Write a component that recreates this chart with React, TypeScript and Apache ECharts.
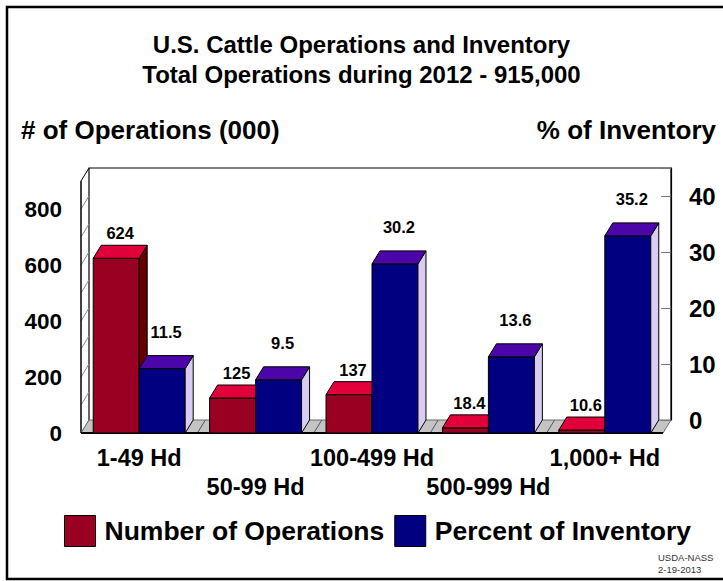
import React, { useEffect, useRef } from "react";
import * as echarts from "echarts";

const categories = ["1-49 Hd", "50-99 Hd", "100-499 Hd", "500-999 Hd", "1,000+ Hd"];
const operations = [624, 125, 137, 18.4, 10.6];
const inventoryPct = [11.5, 9.5, 30.2, 13.6, 35.2];
const opsAxis = { min: 0, max: 900, interval: 200, minor: 100 };
const pctAxis = { min: 0, max: 45, interval: 10 };

const FONT = "'Liberation Sans', Arial, sans-serif";
const DX = 8;
const DY = 13;
const RED = { front: "#990022", top: "#E2003A", side: "#660000" };
const BLUE = { front: "#000080", top: "#4B05A8", side: "#D9CCF2" };

function barRenderer(side: "left" | "right", col: any, gap: number) {
  return (params: any, api: any) => {
    const i = api.value(0);
    const v = api.value(1);
    const base = api.coord([i, 0]);
    const top = api.coord([i, v]);
    const band = api.size([1, 0])[0];
    const w = band * 0.395;
    const xl = side === "left" ? base[0] - w : base[0];
    const xr = xl + w;
    const yb = base[1];
    const yt = top[1];
    const st = { stroke: "#000", lineWidth: 1 };
    return {
      type: "group",
      children: [
        { type: "rect", shape: { x: xl, y: yt, width: w, height: yb - yt }, style: { fill: col.front, ...st } },
        {
          type: "polygon",
          shape: { points: [[xr, yt], [xr + DX, yt - DY], [xr + DX, yb - DY], [xr, yb]] },
          style: { fill: col.side, ...st },
        },
        {
          type: "polygon",
          shape: { points: [[xl, yt], [xr, yt], [xr + DX, yt - DY], [xl + DX, yt - DY]] },
          style: { fill: col.top, ...st },
        },
        {
          type: "text",
          x: (xl + xr) / 2 + DX / 2,
          y: yt - DY - gap,
          style: {
            text: String(v),
            font: `bold 16.5px ${FONT}`,
            fill: "#000",
            align: "center",
            verticalAlign: "middle",
          },
        },
      ],
    };
  };
}

function frameRenderer(params: any, api: any) {
  const cs = params.coordSys;
  const x0 = cs.x;
  const x1 = cs.x + cs.width;
  const yT = cs.y;
  const yB = cs.y + cs.height;
  const band = api.size([1, 0])[0];
  const children: any[] = [];
  children.push({
    type: "polyline",
    shape: { points: [[x0 + DX, yB - DY], [x0 + DX, yT - DY], [x1 + DX, yT - DY], [x1 + DX, yB - DY]] },
    style: { fill: "none", stroke: "#000", lineWidth: 1.2 },
  });
  for (let v = opsAxis.min; v <= opsAxis.max; v += opsAxis.minor) {
    const y = api.coord([0, v])[1];
    children.push({
      type: "line",
      shape: { x1: x0, y1: y, x2: x0 + DX, y2: y - DY },
      style: { stroke: v === opsAxis.max ? "#000" : "#8a8a8a", lineWidth: 1 },
    });
  }
  children.push({
    type: "line",
    shape: { x1: x0, y1: yT, x2: x0, y2: yB },
    style: { stroke: "#000", lineWidth: 1.5 },
  });
  children.push({
    type: "polygon",
    shape: { points: [[x0, yB], [x1, yB], [x1 + DX, yB - DY], [x0 + DX, yB - DY]] },
    style: { fill: "#c4c4c4", stroke: "#6a6a6a", lineWidth: 1 },
  });
  for (let k = 1; k < categories.length; k++) {
    const bx = x0 + k * band;
    children.push({
      type: "line",
      shape: { x1: bx, y1: yB, x2: bx + DX, y2: yB - DY },
      style: { stroke: "#555", lineWidth: 1 },
    });
  }
  children.push({
    type: "line",
    shape: { x1: x0, y1: yB, x2: x1, y2: yB },
    style: { stroke: "#000", lineWidth: 1.8 },
  });
  return { type: "group", children };
}

export default function App() {
  const ref = useRef<HTMLDivElement>(null);
  useEffect(() => {
    if (!ref.current) return;
    const chart = echarts.init(ref.current, null, { renderer: "svg" });
    const opsData = operations.map((v, i) => [i, v]);
    const pctData = inventoryPct.map((v, i) => [i, v]);
    chart.setOption({
      animation: false,
      backgroundColor: "#fff",
      textStyle: { fontFamily: FONT },
      grid: [
        { left: 81, right: 60, top: 181, bottom: 148 },
        { left: 89, right: 52, top: 168, bottom: 161 },
      ],
      legend: {
        left: 64,
        top: 515,
        padding: 0,
        itemWidth: 31,
        itemHeight: 31,
        itemGap: 10,
        icon: "rect",
        selectedMode: false,
        data: ["Number of Operations", "Percent of Inventory"],
        itemStyle: { borderColor: "#000", borderWidth: 1 },
        textStyle: { fontSize: 26.5, fontWeight: "bold", color: "#000", fontFamily: FONT, padding: [0, 0, 0, 4] },
      },
      xAxis: [
        {
          type: "category",
          gridIndex: 0,
          data: categories,
          axisLine: { show: false },
          axisTick: { show: false },
          axisLabel: {
            interval: 0,
            margin: 10.5,
            fontSize: 23.5,
            fontWeight: "bold",
            color: "#000",
            fontFamily: FONT,
            lineHeight: 29,
            formatter: (v: string, i: number) => (i % 2 ? "\n" + v : v),
          },
        },
        { type: "category", gridIndex: 1, data: categories, show: false },
      ],
      yAxis: [
        {
          type: "value",
          gridIndex: 0,
          min: opsAxis.min,
          max: opsAxis.max,
          interval: opsAxis.interval,
          axisLine: { show: false },
          axisTick: { show: false },
          splitLine: { show: false },
          axisLabel: {
            margin: 19,
            fontSize: 22.5,
            fontWeight: "bold",
            color: "#000",
            fontFamily: FONT,
            formatter: (v: number) => (v === opsAxis.max ? "" : String(v)),
          },
        },
        {
          type: "value",
          gridIndex: 0,
          min: pctAxis.min,
          max: pctAxis.max,
          show: false,
          splitLine: { show: false },
        },
        {
          type: "value",
          gridIndex: 1,
          position: "right",
          min: pctAxis.min,
          max: pctAxis.max,
          interval: pctAxis.interval,
          z: 10,
          axisLine: { show: true, lineStyle: { color: "#000", width: 1.2 } },
          axisTick: { show: true, inside: true, length: 10, lineStyle: { color: "#777" } },
          splitLine: { show: false },
          axisLabel: {
            margin: 18,
            fontSize: 24,
            fontWeight: "bold",
            color: "#000",
            fontFamily: FONT,
            formatter: (v: number) => (v === pctAxis.max ? "" : String(v)),
          },
        },
      ],
      series: [
        {
          type: "custom",
          name: "frame",
          xAxisIndex: 0,
          yAxisIndex: 0,
          data: [[0, 0]],
          renderItem: frameRenderer,
          clip: false,
          silent: true,
          z: 1,
        },
        {
          type: "custom",
          name: "Number of Operations",
          xAxisIndex: 0,
          yAxisIndex: 0,
          data: opsData,
          itemStyle: { color: RED.front },
          renderItem: barRenderer("left", RED, 12),
          clip: false,
          z: 3,
        },
        {
          type: "custom",
          name: "Percent of Inventory",
          xAxisIndex: 0,
          yAxisIndex: 1,
          data: pctData,
          itemStyle: { color: BLUE.front },
          renderItem: barRenderer("right", BLUE, 24),
          clip: false,
          z: 4,
        },
      ],
      graphic: [
        {
          type: "rect",
          shape: { x: 7, y: 7, width: 740, height: 572 },
          style: { fill: "none", stroke: "#000", lineWidth: 2.5 },
          silent: true,
        },
        {
          type: "text",
          x: 361.5,
          y: 44,
          style: { text: "U.S. Cattle Operations and Inventory", font: `bold 24px ${FONT}`, fill: "#000", align: "center", verticalAlign: "middle" },
        },
        {
          type: "text",
          x: 361.5,
          y: 74,
          style: { text: "Total Operations during 2012 - 915,000", font: `bold 24px ${FONT}`, fill: "#000", align: "center", verticalAlign: "middle" },
        },
        {
          type: "text",
          x: 21,
          y: 130,
          style: { text: "# of Operations (000)", font: `bold 26px ${FONT}`, fill: "#000", align: "left", verticalAlign: "middle" },
        },
        {
          type: "text",
          x: 716,
          y: 130,
          style: { text: "% of Inventory", font: `bold 26px ${FONT}`, fill: "#000", align: "right", verticalAlign: "middle" },
        },
        {
          type: "text",
          x: 658,
          y: 557,
          style: { text: "USDA-NASS", font: `9.5px ${FONT}`, fill: "#333", align: "left", verticalAlign: "middle" },
        },
        {
          type: "text",
          x: 658,
          y: 569,
          style: { text: "2-19-2013", font: `9.5px ${FONT}`, fill: "#333", align: "left", verticalAlign: "middle" },
        },
      ],
    });
    return () => chart.dispose();
  }, []);
  return (
    <div
      ref={ref}
      style={{ position: "absolute", left: 0, top: 0, width: 723, height: 581, background: "#fff" }}
    />
  );
}
